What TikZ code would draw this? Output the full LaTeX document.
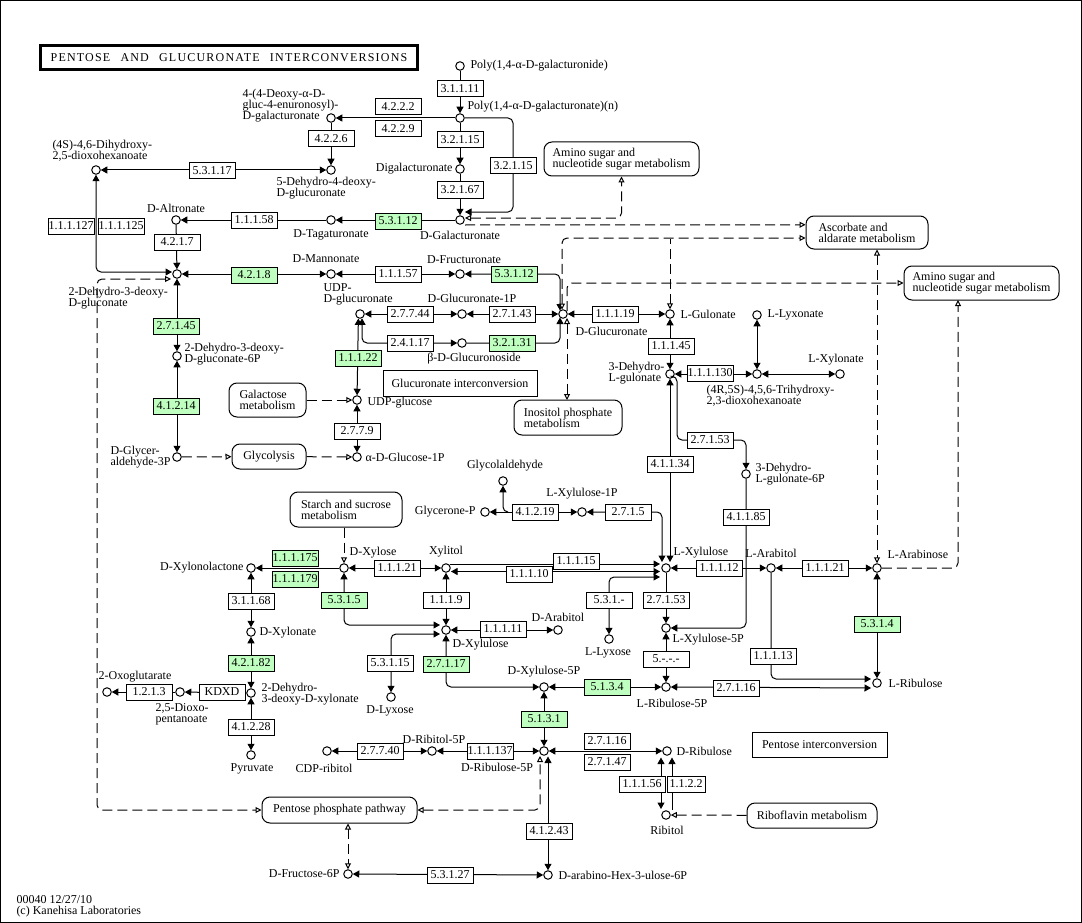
\documentclass[tikz,border=0pt]{standalone}
\usepackage{fontspec}
\setmainfont{Liberation Serif}
\usetikzlibrary{arrows.meta}
\definecolor{kgreen}{HTML}{BFFFBF}
\newcommand\ft{\fontsize{12}{11}\selectfont}
\newcommand\Cpd[5]{\node[cpd] (#1) at (#2) {};\node[lbl,anchor=#3] (#1L) at (#4) {#5};}
\newcommand\Enz[3]{\node[enz] (#1) at (#2) {#3};}
\newcommand\GEnz[3]{\node[enz,fill=kgreen] (#1) at (#2) {#3};}
\begin{document}
\begin{tikzpicture}[x=1pt,y=-1pt,line width=1pt,
  Fa/.tip={Triangle[length=6.5pt,width=7pt]},
  Oa/.tip={Triangle[length=6pt,width=6pt,fill=white]},
  cpd/.style={circle,draw,line width=1pt,minimum size=8.5pt,inner sep=0pt,fill=white},
  lbl/.style={inner sep=0pt,font=\ft,align=left},
  enz/.style={draw,line width=1pt,minimum width=46pt,minimum height=16pt,inner sep=0pt,fill=white,font=\ft},
  map/.style={draw,line width=1pt,rounded corners=8pt,fill=white,font=\ft,align=left,inner sep=0pt},
  plain/.style={draw,line width=1pt,fill=white,font=\ft,inner sep=0pt},
  rc/.style={rounded corners=5pt},
  fw/.style={-Fa}, bi/.style={Fa-Fa},
  dl/.style={dash pattern=on 10pt off 5pt},
  dfw/.style={dl,-Oa}, dbi/.style={dl,Oa-Oa}, dbw/.style={dl,Oa-}]
\useasboundingbox (0,0) rectangle (1082,923);
\draw[line width=1pt] (0.5,0.5) rectangle (1081.5,922.5);
% title
\node[draw,line width=3pt,minimum width=377pt,minimum height=24pt,inner sep=0pt] (title) at (229,57.5)
  {\fontsize{12}{12}\selectfont\addfontfeature{LetterSpace=10}PENTOSE\hspace{6pt} AND\hspace{6pt} GLUCURONATE\hspace{6pt} INTERCONVERSIONS};
\node[lbl,anchor=north west] (foot) at (16,895) {00040 12/27/10\\(c) Kanehisa Laboratories};
% map boxes
\node[map,minimum width=155pt,minimum height=34pt] (amino1) at (621.5,159) {Amino sugar and\\nucleotide sugar metabolism};
\node[map,minimum width=122pt,minimum height=33pt] (asc) at (867,232.5) {Ascorbate and\\aldarate metabolism};
\node[map,minimum width=155pt,minimum height=34pt] (amino2) at (981.5,283) {Amino sugar and\\nucleotide sugar metabolism};
\node[map,minimum width=108pt,minimum height=35pt] (inos) at (568,417.5) {Inositol phosphate\\metabolism};
\node[map,minimum width=77pt,minimum height=34pt] (galactose) at (267.5,400) {Galactose\\metabolism};
\node[map,minimum width=74pt,minimum height=25pt] (glycolysis) at (269,456.5) {Glycolysis};
\node[map,minimum width=112pt,minimum height=35pt] (starch) at (346,509.5) {Starch and sucrose\\metabolism};
\node[map,minimum width=155pt,minimum height=26pt] (ppp) at (339.5,810) {Pentose phosphate pathway};
\node[map,minimum width=130pt,minimum height=25pt] (ribofl) at (812,815.5) {Riboflavin metabolism};
\node[plain,minimum width=154pt,minimum height=26pt] (glcint) at (460,383) {Glucuronate interconversion};
\node[plain,minimum width=135pt,minimum height=25pt] (pentint) at (819.5,744.5) {Pentose interconversion};
% compounds
\Cpd{polyide}{460,66}{west}{470,66}{Poly(1,4-α-D-galacturonide)}
\Cpd{polyn}{460,118}{west}{467,107}{Poly(1,4-α-D-galacturonate)(n)}
\Cpd{deoxy}{331,118}{west}{242,106}{4-(4-Deoxy-α-D-\\gluc-4-enuronosyl)-\\D-galacturonate}
\Cpd{dkg}{331,170}{west}{276,188}{5-Dehydro-4-deoxy-\\D-glucuronate}
\Cpd{dihyd}{96,170}{west}{52,151}{(4S)-4,6-Dihydroxy-\\2,5-dioxohexanoate}
\Cpd{altr}{176,220}{center}{176,208}{D-Altronate}
\Cpd{tagat}{331,220}{center}{331,235}{D-Tagaturonate}
\Cpd{digal}{460,169}{east}{453,169}{Digalacturonate}
\Cpd{galact}{460,220}{center}{460,235}{D-Galacturonate}
\Cpd{kdg}{177,274}{west}{68,298}{2-Dehydro-3-deoxy-\\D-gluconate}
\Cpd{mannon}{331,274}{center}{326,259}{D-Mannonate}
\Cpd{fructur}{460,274}{center}{464,260}{D-Fructuronate}
\Cpd{glcur}{563,314}{west}{575,331}{D-Glucuronate}
\Cpd{glcur1p}{462,314}{center}{472,298}{D-Glucuronate-1P}
\Cpd{udpglcur}{360,314}{west}{323,294}{UDP-\\D-glucuronate}
\Cpd{bglcur}{462,343}{center}{474,359}{β-D-Glucuronoside}
\Cpd{lgulon}{670,314}{west}{680,314}{L-Gulonate}
\Cpd{dhlgul}{670,374}{west}{608,373}{3-Dehydro-\\L-gulonate}
\Cpd{trihyd}{757,374}{west}{706,396}{(4R,5S)-4,5,6-Trihydroxy-\\2,3-dioxohexanoate}
\Cpd{llyxon}{757,315}{west}{767,315}{L-Lyxonate}
\Cpd{lxylon}{840,374}{center}{836,360}{L-Xylonate}
\Cpd{dhlg6p}{746,474}{west}{755,474}{3-Dehydro-\\L-gulonate-6P}
\Cpd{kdg6p}{177,356}{west}{184,354}{2-Dehydro-3-deoxy-\\D-gluconate-6P}
\Cpd{gap}{177,457}{west}{110,457}{D-Glycer-\\aldehyde-3P}
\Cpd{udpglc}{357,400}{west}{367,403}{UDP-glucose}
\Cpd{glc1p}{357,457}{west}{365,457}{α-D-Glucose-1P}
\Cpd{dxyl}{344,568}{center}{373,553}{D-Xylose}
\Cpd{xylitol}{446,568}{center}{446,552}{Xylitol}
\Cpd{lxylu}{666,568}{west}{673,553}{L-Xylulose}
\Cpd{larabitol}{771,568}{center}{771,553}{L-Arabitol}
\Cpd{larabinose}{877,568}{west}{887,554}{L-Arabinose}
\Cpd{lribulose}{877,683}{west}{888,683}{L-Ribulose}
\Cpd{lxylu1p}{582,512}{center}{582,494}{L-Xylulose-1P}
\Cpd{glycerone}{485,512}{east}{476,512}{Glycerone-P}
\Cpd{glycolald}{503,481}{center}{505,466}{Glycolaldehyde}
\Cpd{dxylonolac}{251,568}{east}{244,568}{D-Xylonolactone}
\Cpd{dxylonate}{251,632}{west}{259,633}{D-Xylonate}
\Cpd{kdx}{251,693}{west}{261,694}{2-Dehydro-\\3-deoxy-D-xylonate}
\Cpd{dioxo}{180,692}{center}{182,714}{2,5-Dioxo-\\pentanoate}
\Cpd{oxoglut}{107,692}{center}{135,677}{2-Oxoglutarate}
\Cpd{pyruvate}{251,755}{center}{252,769}{Pyruvate}
\Cpd{dxylulose}{446,630}{west}{452,645}{D-Xylulose}
\Cpd{darabitol}{558,630}{center}{558,617}{D-Arabitol}
\Cpd{dlyxose}{391,697}{center}{390,711}{D-Lyxose}
\Cpd{llyxose}{609,639}{center}{608,653}{L-Lyxose}
\Cpd{lxylu5p}{666,628}{west}{672,640}{L-Xylulose-5P}
\Cpd{dxylu5p}{544,687}{center}{544,672}{D-Xylulose-5P}
\Cpd{lribu5p}{666,687}{center}{672,703}{L-Ribulose-5P}
\Cpd{dribu5p}{544,751}{center}{497,767}{D-Ribulose-5P}
\Cpd{dribitol5p}{432,751}{center}{434,739}{D-Ribitol-5P}
\Cpd{cdpribitol}{327,751}{center}{324,768}{CDP-ribitol}
\Cpd{dribulose}{667,751}{west}{676,751}{D-Ribulose}
\Cpd{ribitol}{666,815}{center}{667,830}{Ribitol}
\Cpd{fru6p}{348,874}{east}{340,874}{D-Fructose-6P}
\Cpd{hex3ul}{548,875}{west}{558,875}{D-arabino-Hex-3-ulose-6P}
% free ends
\coordinate (galin) at (465,212);
\coordinate (kdgin) at (172,272);
\coordinate (glcurN) at (560,310.5);
\coordinate (glcurS) at (560,317.5);
\coordinate (lxyluA) at (662,562);
\coordinate (lxyluB) at (670,562);
\coordinate (dxyluA) at (440,625);
\coordinate (dxyluB) at (440,634);
\coordinate (ribuA) at (661,757.5);
\coordinate (ribuB) at (672,757.5);
\coordinate (ribitA) at (661,809);
\coordinate (ribitB) at (672,810);
\coordinate (lribA) at (871,679);
\coordinate (lribB) at (871,688);
\coordinate (dribS) at (548,756.5);
% solid reactions
\draw[fw] (polyide) -- (polyn);
\draw[fw] (polyn) -- (deoxy);
\draw[fw] (deoxy) -- (dkg);
\draw[bi] (dihyd) -- (dkg);
\draw[fw] (polyn) -- (digal);
\draw[fw] (digal) -- (galact);
\draw[fw,rc] (polyn) -- (513,118) -- (513,212) -- (galin);
\draw[fw] (galact) -- (tagat);
\draw[fw] (tagat) -- (altr);
\draw[fw] (altr) -- (kdg);
\draw[bi,rc] (dihyd) -- (96,272) -- (kdgin);
\draw[bi] (mannon) -- (kdg);
\draw[bi] (fructur) -- (mannon);
\draw[bi,rc] (fructur) -| (glcurN);
\draw[bi] (glcur) -- (glcur1p);
\draw[bi] (glcur1p) -- (udpglcur);
\draw[bi,rc] (udpglcur.-65) |- (bglcur);
\draw[fw,rc] (bglcur) -| (glcurS);
\draw[bi] (glcur) -- (lgulon);
\draw[bi] (lgulon) -- (dhlgul);
\draw[bi] (trihyd) -- (dhlgul);
\draw[bi] (trihyd) -- (llyxon);
\draw[bi] (trihyd) -- (lxylon);
\draw[fw,rc] (dhlgul.-30) -| (677,440) -| (dhlg6p);
\draw[bi] (dhlgul) -- (lxyluB);
\draw[bi,rc] (lxylu1p) -| (lxyluA);
\draw[bi] (lxylu1p) -- (glycerone);
\draw[fw,rc] (508,512) -| (glycolald);
\draw[fw,rc] (dhlg6p) |- (lxylu5p);
\draw[fw] (lxylu) -- (lxylu5p);
\draw[bi] (lxylu5p) -- (lribu5p);
\draw[bi] (udpglcur.-110) -- (udpglc);
\draw[bi] (udpglc) -- (glc1p);
\draw[bi] (kdg) -- (kdg6p);
\draw[bi] (kdg6p) -- (gap);
\draw[bi] (xylitol) -- (dxyl);
\draw[fw] (dxyl) -- (dxylonolac);
\draw[bi] (dxylonolac) -- (dxylonate);
\draw[bi] (dxylonate) -- (kdx);
\draw[fw] (kdx) -- (dioxo);
\draw[fw] (dioxo) -- (oxoglut);
\draw[bi] (kdx) -- (pyruvate);
\draw[bi,rc] (dxyl) |- (dxyluA);
\draw[bi,rc] (dlyxose) |- (dxyluB);
\draw[bi] (xylitol) -- (dxylulose);
\draw[bi] (dxylulose) -- (darabitol);
\draw[bi,rc] (dxylulose) |- (dxylu5p);
\draw[bi] (dxylu5p) -- (lribu5p);
\draw[bi] (dxylu5p) -- (dribu5p);
\draw[bi] (dribu5p) -- (dribitol5p);
\draw[bi] (dribitol5p) -- (cdpribitol);
\draw[bi] (dribu5p) -- (dribulose);
\draw[bi] (ribuA) -- (ribitA);
\draw[fw] (ribitB) -- (ribuB);
\draw[fw,rc] (larabitol) |- (lribA);
\draw[bi] (lribu5p.east) -- (lribB);
\draw[bi] (lxylu) -- (larabitol);
\draw[bi] (larabitol) -- (larabinose);
\draw[bi] (larabinose) -- (lribulose);
\draw[bi,rc] (llyxose) |- (660,577);
\draw[fw] (450,564) -- (660,564);
\draw[bi] (451,571.5) -- (660,571.5);
\draw[bi] (hex3ul) -- (dribS);
\draw[bi] (fru6p) -- (hex3ul);
% dashed links
\draw[dbi,rc] (465,218) -| (amino1.south);
\draw[dfw] (465,225) -- (asc.west |- galact.south);
\draw[dbi,rc] (562,309.5) |- (805.5,238);
\draw[dbw] (lgulon) -- (670,239);
\draw[dfw,rc] (567,311) |- (amino2.west);
\draw[dbi] (567,318) -- (567,400);
\draw[dbi] (larabinose |- asc.south) -- (larabinose);
\draw[dfw,rc] (larabinose) -| (958,300);
\draw[dbi,rc] (171,279) -- (97,279) -- (97,810) -- (ppp.west);
\draw[dfw] (dxyl |- starch.south) -- (dxyl);
\draw[dfw] (gap) -- (glycolysis);
\draw[dfw] (glycolysis) -- (glc1p);
\draw[dfw] (galactose) -- (udpglc);
\draw[dbi,rc] (ppp.east) -| (540,756);
\draw[dbi] (fru6p |- ppp.south) -- (fru6p);
\draw[dfw] (ribofl) -- (ribitol);
% enzymes
\Enz{e1}{460,89}{3.1.1.11}
\Enz{e2}{398,107}{4.2.2.2}
\Enz{e3}{398,129}{4.2.2.9}
\Enz{e4}{331,139}{4.2.2.6}
\Enz{e5}{460,140}{3.2.1.15}
\Enz{e6}{460,190}{3.2.1.67}
\Enz{e7}{513,166}{3.2.1.15}
\Enz{e8}{212,171}{5.3.1.17}
\Enz{e9}{254,220}{1.1.1.58}
\GEnz{e10}{398,221}{5.3.1.12}
\Enz{e11}{71,226}{1.1.1.127}
\Enz{e12}{121,226}{1.1.1.125}
\Enz{e13}{177,242}{4.2.1.7}
\GEnz{e14}{254,275}{4.2.1.8}
\Enz{e15}{398,274}{1.1.1.57}
\GEnz{e16}{514,274}{5.3.1.12}
\Enz{e17}{410,314}{2.7.7.44}
\Enz{e18}{512,314}{2.7.1.43}
\Enz{e19}{410,343}{2.4.1.17}
\GEnz{e20}{512,343}{3.2.1.31}
\Enz{e21}{615,314}{1.1.1.19}
\Enz{e22}{671,346}{1.1.1.45}
\Enz{e23}{710,373}{1.1.1.130}
\Enz{e24}{710,440}{2.7.1.53}
\Enz{e25}{670,464}{4.1.1.34}
\Enz{e26}{746,517}{4.1.1.85}
\GEnz{e27}{176,326}{2.7.1.45}
\GEnz{e28}{176,406}{4.1.2.14}
\GEnz{e29}{358,358}{1.1.1.22}
\Enz{e30}{357,431}{2.7.7.9}
\GEnz{e31}{295,558}{1.1.1.175}
\GEnz{e32}{295,579}{1.1.1.179}
\Enz{e33}{251,601}{3.1.1.68}
\GEnz{e34}{251,663}{4.2.1.82}
\Enz{e35}{222,692}{KDXD}
\Enz{e36}{149,692}{1.2.1.3}
\Enz{e37}{251,727}{4.1.2.28}
\GEnz{e38}{344,600}{5.3.1.5}
\Enz{e39}{397,568}{1.1.1.21}
\Enz{e40}{576,561}{1.1.1.15}
\Enz{e41}{529,574}{1.1.1.10}
\Enz{e42}{446,600}{1.1.1.9}
\Enz{e43}{503,629}{1.1.1.11}
\Enz{e44}{390,663}{5.3.1.15}
\GEnz{e45}{446,664}{2.7.1.17}
\Enz{e46}{609,600}{5.3.1.-}
\Enz{e47}{666,600}{2.7.1.53}
\Enz{e48}{666,659}{5.-.-.-}
\Enz{e49}{628,512}{2.7.1.5}
\Enz{e50}{535,512}{4.1.2.19}
\Enz{e51}{719,568}{1.1.1.12}
\Enz{e52}{825,568}{1.1.1.21}
\GEnz{e53}{877,624}{5.3.1.4}
\Enz{e54}{773,656}{1.1.1.13}
\Enz{e55}{736,688}{2.7.1.16}
\GEnz{e56}{607,687}{5.1.3.4}
\GEnz{e57}{544,719}{5.1.3.1}
\Enz{e58}{490,751}{1.1.1.137}
\Enz{e59}{380,751}{2.7.7.40}
\Enz{e60}{607,741}{2.7.1.16}
\Enz{e61}{607,762}{2.7.1.47}
\Enz{e62}{642,784}{1.1.1.56}
\node[enz,minimum width=38pt] (e63) at (686,784) {1.1.2.2};
\Enz{e64}{549,831}{4.1.2.43}
\Enz{e65}{450,875}{5.3.1.27}
\end{tikzpicture}
\end{document}
